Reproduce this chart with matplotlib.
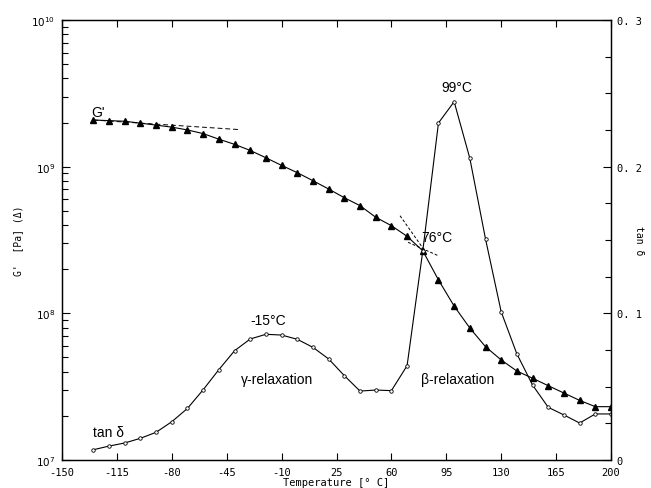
import numpy as np
import matplotlib
matplotlib.use('Agg')
import matplotlib.pyplot as plt
from matplotlib.ticker import FixedLocator, MultipleLocator, LogLocator, NullFormatter

# ── data ──────────────────────────────────────────────────────
temp = [-130, -120, -110, -100, -90, -80, -70, -60, -50, -40, -30, -20, -10,
        0, 10, 20, 30, 40, 50, 60, 70, 80, 90, 100, 110, 120, 130, 140, 150,
        160, 170, 180, 190, 200]

g_prime = [2.08e9, 2.06e9, 2.04e9, 1.98e9, 1.92e9, 1.86e9, 1.78e9, 1.68e9,
           1.54e9, 1.42e9, 1.29e9, 1.15e9, 1.02e9, 9.10e8, 8.02e8, 7.04e8,
           6.14e8, 5.42e8, 4.52e8, 3.96e8, 3.35e8, 2.67e8, 1.69e8, 1.12e8,
           7.94e7, 5.92e7, 4.81e7, 4.04e7, 3.61e7, 3.21e7, 2.86e7, 2.55e7,
           2.31e7, 2.31e7]

tan_delta = [0.0070, 0.0095, 0.0116, 0.0148, 0.0189, 0.0261, 0.0352, 0.0479,
             0.0616, 0.0745, 0.0825, 0.0857, 0.0852, 0.0823, 0.0768, 0.0689,
             0.0575, 0.0470, 0.0477, 0.0473, 0.0643, 0.1425, 0.2298, 0.2443,
             0.2057, 0.1507, 0.1010, 0.0723, 0.0511, 0.0359, 0.0307, 0.0252,
             0.0314, 0.0314]

# tangent construction lines (dashed)
tan_low_t = [-130, -37]
tan_low_g = [2.08e9, 1.79e9]
tan_a_t = [65.5, 82]
tan_a_g = [4.63e8, 2.6e8]
tan_b_t = [70.6, 89.9]
tan_b_g = [3.05e8, 2.47e8]

x_ticks = [-150, -115, -80, -45, -10, 25, 60, 95, 130, 165, 200]
g_ticks = [1e7, 1e8, 1e9, 1e10]
g_tick_labels = ['$10^{7}$', '$10^{8}$', '$10^{9}$', '$10^{10}$']
t_ticks = [0, 0.1, 0.2, 0.3]
t_tick_labels = ['0', '0. 1', '0. 2', '0. 3']

# ── figure ────────────────────────────────────────────────────
fig = plt.figure(figsize=(6.51, 4.89), dpi=100)
ax = fig.add_axes([62/651, 28/489, 549/651, 440/489])
ax2 = ax.twinx()

TICKFONT = dict(family='DejaVu Sans Mono', size=7.5)
ANNFONT = dict(family='Liberation Sans', size=10)

ax.set_yscale('log')
ax.set_xlim(-150, 200)
ax.set_ylim(1e7, 1e10)
ax2.set_ylim(0, 0.3)

ax.plot(temp, g_prime, color='black', lw=0.8, marker='^', ms=4,
        mfc='black', mec='black')
ax.plot(tan_low_t, tan_low_g, color='black', lw=0.7, ls=(0, (5, 3)))
ax.plot(tan_a_t, tan_a_g, color='black', lw=0.7, ls=(0, (3, 2)))
ax.plot(tan_b_t, tan_b_g, color='black', lw=0.7, ls=(0, (3, 2)))

ax2.plot(temp, tan_delta, color='black', lw=0.8, marker='o', ms=2.5,
         mfc='white', mec='black', mew=0.6)

# ticks
ax.xaxis.set_major_locator(FixedLocator(x_ticks))
ax.set_xticklabels([str(v) for v in x_ticks], **TICKFONT)
ax.tick_params(axis='x', which='both', direction='in', length=5, width=0.8,
               top=True, pad=5)

ax.yaxis.set_major_locator(FixedLocator(g_ticks))
ax.set_yticklabels(g_tick_labels, **TICKFONT)
ax.yaxis.set_minor_locator(LogLocator(base=10, subs=np.arange(2, 10)))
ax.yaxis.set_minor_formatter(NullFormatter())
ax.tick_params(axis='y', which='major', direction='in', length=6, width=0.8, pad=5)
ax.tick_params(axis='y', which='minor', direction='in', length=4, width=0.8)

ax2.yaxis.set_major_locator(FixedLocator(t_ticks))
ax2.set_yticklabels(t_tick_labels, **TICKFONT)
ax2.yaxis.set_minor_locator(MultipleLocator(0.025))
ax2.tick_params(axis='y', which='major', direction='in', length=6, width=0.8, pad=4)
ax2.tick_params(axis='y', which='minor', direction='in', length=4, width=0.8)

for a in (ax, ax2):
    for s in a.spines.values():
        s.set_linewidth(0.9)

ax.set_xlabel('Temperature [° C]', fontdict=TICKFONT, labelpad=0)
ax.set_ylabel("G'  [Pa] (Δ)", fontdict=dict(family='DejaVu Sans Mono', size=7),
              labelpad=6)
ax2.set_ylabel('tan δ', fontdict=dict(family='DejaVu Sans Mono', size=7),
               rotation=270, labelpad=2)

# annotations (placed in tan-delta coordinates)
ax2.text(-126.8, 0.237, "G'", ha='center', va='center', **ANNFONT)
ax2.text(101.6, 0.254, '99°C', ha='center', va='center', **ANNFONT)
ax2.text(88.9, 0.152, '76°C', ha='center', va='center', **ANNFONT)
ax2.text(-18.5, 0.0957, '-15°C', ha='center', va='center', **ANNFONT)
ax2.text(-13.1, 0.0552, 'γ-relaxation', ha='center', va='center', **ANNFONT)
ax2.text(102, 0.0552, 'β-relaxation', ha='center', va='center', **ANNFONT)
ax2.text(-120.5, 0.0189, 'tan δ', ha='center', va='center', **ANNFONT)

fig.savefig('out.png', dpi=100, facecolor='white')
